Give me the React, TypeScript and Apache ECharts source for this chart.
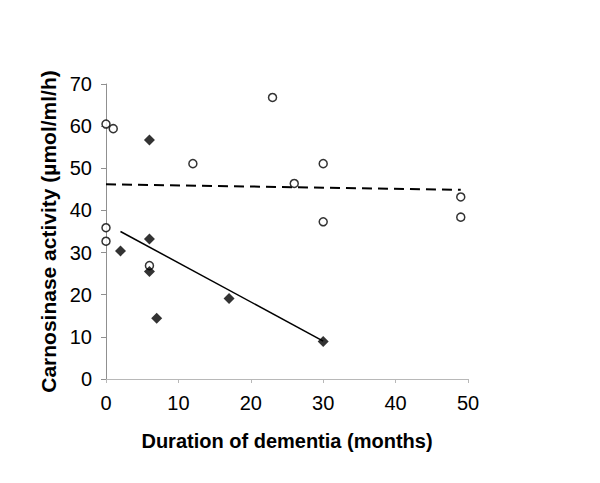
import React, { useEffect, useRef } from "react";
import * as echarts from "echarts";

const openCircles: [number, number][] = [
  [0, 60.5], [1, 59.4], [12, 51.1], [23, 66.8], [26, 46.4], [30, 51.1],
  [30, 37.3], [0, 35.9], [0, 32.7], [6, 26.9], [49, 43.2], [49, 38.4],
];
const filledDiamonds: [number, number][] = [
  [6, 56.7], [2, 30.4], [6, 33.2], [6, 25.5], [7, 14.4], [17, 19.1], [30, 8.9],
];
const dashedTrend: [number, number][] = [[0, 46.2], [49, 44.9]];
const solidTrend: [number, number][] = [[2, 35.0], [30, 9.0]];
const xTicks = [0, 10, 20, 30, 40, 50];
const yTicks = [0, 10, 20, 30, 40, 50, 60, 70];

export default function App() {
  const ref = useRef<HTMLDivElement>(null);
  useEffect(() => {
    document.body.style.margin = "0";
    const chart = echarts.init(ref.current!, undefined, { renderer: "svg" });
    const font = "Arial, 'Liberation Sans', sans-serif";
    chart.setOption({
      animation: false,
      backgroundColor: "#ffffff",
      grid: { left: 106, right: 132, top: 84, bottom: 104 },
      xAxis: {
        type: "value",
        min: xTicks[0],
        max: xTicks[xTicks.length - 1],
        interval: 10,
        name: "Duration of dementia (months)",
        nameLocation: "middle",
        nameGap: 52,
        nameTextStyle: { fontFamily: font, fontSize: 20, fontWeight: "bold", color: "#000" },
        axisLine: { lineStyle: { color: "#b8b8b8", width: 1 } },
        axisTick: { show: true, length: 4, lineStyle: { color: "#b8b8b8" } },
        axisLabel: { fontFamily: font, fontSize: 20, color: "#000", margin: 14 },
        splitLine: { show: false },
      },
      yAxis: {
        type: "value",
        min: yTicks[0],
        max: yTicks[yTicks.length - 1],
        interval: 10,
        name: "Carnosinase activity (µmol/ml/h)",
        nameLocation: "middle",
        nameGap: 42,
        nameTextStyle: { fontFamily: font, fontSize: 21, fontWeight: "bold", color: "#000" },
        axisLine: { show: true, lineStyle: { color: "#909090", width: 1 } },
        axisTick: { show: true, length: 5, lineStyle: { color: "#909090" } },
        axisLabel: { fontFamily: font, fontSize: 20, color: "#000", margin: 14 },
        splitLine: { show: false },
      },
      series: [
        {
          type: "line",
          data: dashedTrend,
          symbol: "none",
          lineStyle: { color: "#000", width: 2, type: [10, 6] },
          z: 2,
        },
        {
          type: "line",
          data: solidTrend,
          symbol: "none",
          lineStyle: { color: "#000", width: 1.5, type: "solid" },
          z: 2,
        },
        {
          type: "scatter",
          data: openCircles,
          symbol: "circle",
          symbolSize: 8,
          itemStyle: { color: "#fff", borderColor: "#000", borderWidth: 1.5 },
          z: 3,
        },
        {
          type: "scatter",
          data: filledDiamonds,
          symbol: "diamond",
          symbolSize: 11,
          itemStyle: { color: "#000" },
          z: 3,
        },
      ],
    });
    return () => chart.dispose();
  }, []);
  return <div ref={ref} style={{ width: 600, height: 483 }} />;
}
